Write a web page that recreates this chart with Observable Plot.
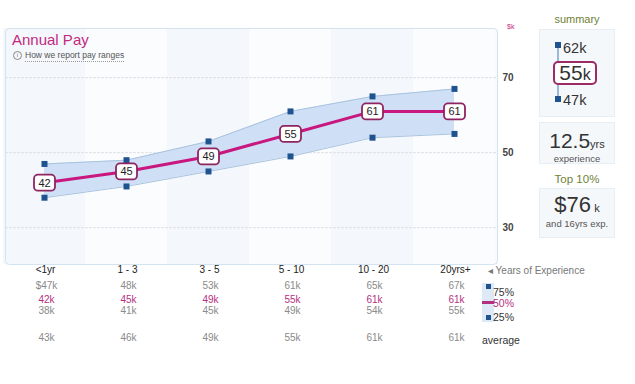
<!DOCTYPE html>
<html><head><meta charset="utf-8">
<script src="https://cdn.jsdelivr.net/npm/d3@7"></script>
<script src="https://cdn.jsdelivr.net/npm/@observablehq/plot@0.6"></script>
<style>
html,body{margin:0;padding:0;background:#fff;}
#wrap{position:relative;width:635px;height:384px;overflow:hidden;font-family:"Liberation Sans",Arial,sans-serif;}
#chart{position:absolute;left:0;top:0;}
.abs{position:absolute;white-space:nowrap;line-height:1;}
.box{position:absolute;left:539px;width:76px;background:#f5f8fb;border:1px solid #e7eef4;box-sizing:border-box;}
.sq{position:absolute;width:6px;height:6px;background:#1f5390;}
</style></head>
<body><div id="wrap"><div id="chart"></div></div>
<script>
const cats = ["<1yr","1 - 3","3 - 5","5 - 10","10 - 20","20yrs+"];
const p75 = [47,48,53,61,65,67];
const p50 = [42,45,49,55,61,61];
const p25 = [38,41,45,49,54,55];
const avg = [43,46,49,55,61,61];
const p75Text = ["$47k","48k","53k","61k","65k","67k"];
const yTicks = [30,50,70];

const rows = cats.map((c,i)=>({cat:c, p75:p75[i], p50:p50[i], p25:p25[i], avg:avg[i], t75:p75Text[i]}));

const square = {draw(ctx){ctx.moveTo(-3,-3);ctx.lineTo(3,-3);ctx.lineTo(3,3);ctx.lineTo(-3,3);ctx.closePath();}};
const rbox = {draw(ctx){
  const w=10.5,h=8,r=4;
  ctx.moveTo(-w+r,-h);ctx.lineTo(w-r,-h);ctx.arcTo(w,-h,w,-h+r,r);
  ctx.lineTo(w,h-r);ctx.arcTo(w,h,w-r,h,r);
  ctx.lineTo(-w+r,h);ctx.arcTo(-w,h,-w,h-r,r);
  ctx.lineTo(-w,-h+r);ctx.arcTo(-w,-h,-w+r,-h,r);ctx.closePath();}};

const even = cats.filter((d,i)=>i%2===0), odd = cats.filter((d,i)=>i%2===1);

const plot = Plot.plot({
  width:635, height:384,
  marginLeft:5, marginRight:138, marginTop:28, marginBottom:120,
  x:{type:"band", domain:cats, range:[3,495], padding:0, axis:null},
  y:{domain:[20.2,83.1], axis:null},
  style:{fontFamily:"Liberation Sans, Arial, sans-serif", background:"transparent", overflow:"visible"},
  marks:[
    Plot.frame({fill:"#f8fafd", stroke:null}),
    Plot.cell(even, {x:d=>d, fill:"#f4f7fb"}),
    Plot.cell(odd, {x:d=>d, fill:"#fafcfe"}),
    Plot.ruleY(yTicks, {stroke:"#dde1e6", strokeDasharray:"3,1"}),
    Plot.text(yTicks, {y:d=>d, text:d=>String(d), frameAnchor:"right", textAnchor:"start", dx:5, fontSize:10, fontWeight:"bold", fill:"#444"}),
    Plot.areaY(rows, {x:"cat", y1:"p25", y2:"p75", fill:"#cfe0f6"}),
    Plot.line(rows, {x:"cat", y:"p75", stroke:"#a9c3df", strokeWidth:1}),
    Plot.line(rows, {x:"cat", y:"p25", stroke:"#a9c3df", strokeWidth:1}),
    Plot.line(rows, {x:"cat", y:"p50", stroke:"#c8177f", strokeWidth:3}),
    Plot.dot(rows, {x:"cat", y:"p75", symbol:square, fill:"#1f5390", stroke:"none"}),
    Plot.dot(rows, {x:"cat", y:"p25", symbol:square, fill:"#1f5390", stroke:"none"}),
    Plot.dot(rows, {x:"cat", y:"p50", symbol:rbox, fill:"white", stroke:"#8e2460", strokeWidth:1.8}),
    Plot.text(rows, {x:"cat", y:"p50", text:d=>String(d.p50), fontSize:11, fill:"#222", dy:0.5}),
    Plot.frame({stroke:"#d3e3f0", rx:4}),
    Plot.text(rows, {x:"cat", text:"cat", frameAnchor:"bottom", dy:8, dx:1, fontSize:10, fill:"#222"}),
    Plot.text(rows, {x:"cat", text:"t75", frameAnchor:"bottom", dy:24, dx:2, fontSize:10, fill:"#8a8a8a"}),
    Plot.text(rows, {x:"cat", text:d=>d.p50+"k", frameAnchor:"bottom", dy:38, dx:2, fontSize:10, fill:"#b4307e"}),
    Plot.text(rows, {x:"cat", text:d=>d.p25+"k", frameAnchor:"bottom", dy:49, dx:2, fontSize:10, fill:"#8a8a8a"}),
    Plot.text(rows, {x:"cat", text:d=>d.avg+"k", frameAnchor:"bottom", dy:76, dx:2, fontSize:10, fill:"#8a8a8a"})
  ]
});
document.getElementById("chart").appendChild(plot);

const wrap = document.getElementById("wrap");
function add(html){ wrap.insertAdjacentHTML("beforeend", html); }
// title & subtitle
add('<div class="abs" style="left:12px;top:32px;font-size:15px;color:#c22a80;">Annual Pay</div>');
add('<div class="abs" style="left:13px;top:51px;width:7px;height:7px;border:1px solid #888;border-radius:50%;font-size:6px;color:#777;text-align:center;line-height:7px;">i</div>');
add('<div class="abs" style="left:25px;top:51px;font-size:8.5px;color:#555;border-bottom:1px dotted #999;padding-bottom:1px;">How we report pay ranges</div>');
add('<div class="abs" style="left:507px;top:23px;font-size:7px;color:#c22a80;">$k</div>');
// legend
add('<div class="abs" style="left:488px;top:266px;font-size:10px;color:#777;">&#9666; Years of Experience</div>');
add('<div class="abs" style="left:482px;top:283px;width:12px;height:39px;background:#dde9f6;"></div>');
add('<div class="sq" style="left:486px;top:284px;width:5px;height:5px;"></div>');
add('<div class="sq" style="left:486px;top:315px;width:5px;height:5px;"></div>');
add('<div class="abs" style="left:482px;top:301px;width:12px;height:3px;background:#b4307e;"></div>');
add('<div class="abs" style="left:493px;top:287px;font-size:10.5px;color:#333;">75%</div>');
add('<div class="abs" style="left:493px;top:298px;font-size:10.5px;color:#b4307e;">50%</div>');
add('<div class="abs" style="left:493px;top:312px;font-size:10.5px;color:#333;">25%</div>');
add('<div class="abs" style="left:482px;top:335px;font-size:10.5px;color:#333;">average</div>');
// summary
add('<div class="abs" style="left:539px;width:76px;text-align:center;top:14px;font-size:11px;color:#6f7f36;">summary</div>');
add('<div class="box" style="top:29px;height:88px;"></div>');
add('<div class="abs" style="left:557px;top:45px;width:2px;height:55px;background:#9db9d8;"></div>');
add('<div class="sq" style="left:555px;top:42px;"></div>');
add('<div class="sq" style="left:555px;top:96px;"></div>');
add('<div class="abs" style="left:563px;top:41px;font-size:14.5px;color:#333;">62k</div>');
add('<div class="abs" style="left:563px;top:93px;font-size:14.5px;color:#333;">47k</div>');
add('<div class="abs" style="left:553px;top:61px;width:44px;height:24px;box-sizing:border-box;border:2px solid #9a2c66;border-radius:5px;background:#fff;text-align:center;color:#333;line-height:20px;"><span style="font-size:21px;">55</span><span style="font-size:16px;">k</span></div>');
add('<div class="box" style="top:122px;height:42px;"></div>');
add('<div class="abs" style="left:539px;width:76px;text-align:center;top:130px;color:#333;"><span style="font-size:21px;">12.5</span><span style="font-size:11px;">yrs</span></div>');
add('<div class="abs" style="left:539px;width:76px;text-align:center;top:154px;font-size:9.5px;color:#555;">experience</div>');
add('<div class="abs" style="left:539px;width:76px;text-align:center;top:174px;font-size:11.5px;color:#6f7f36;">Top 10%</div>');
add('<div class="box" style="top:188px;height:50px;"></div>');
add('<div class="abs" style="left:539px;width:76px;text-align:center;top:194px;color:#333;"><span style="font-size:22px;">$76</span><span style="font-size:11px;"> k</span></div>');
add('<div class="abs" style="left:539px;width:76px;text-align:center;top:219px;font-size:9.5px;color:#555;">and 16yrs exp.</div>');
</script>
</body></html>
